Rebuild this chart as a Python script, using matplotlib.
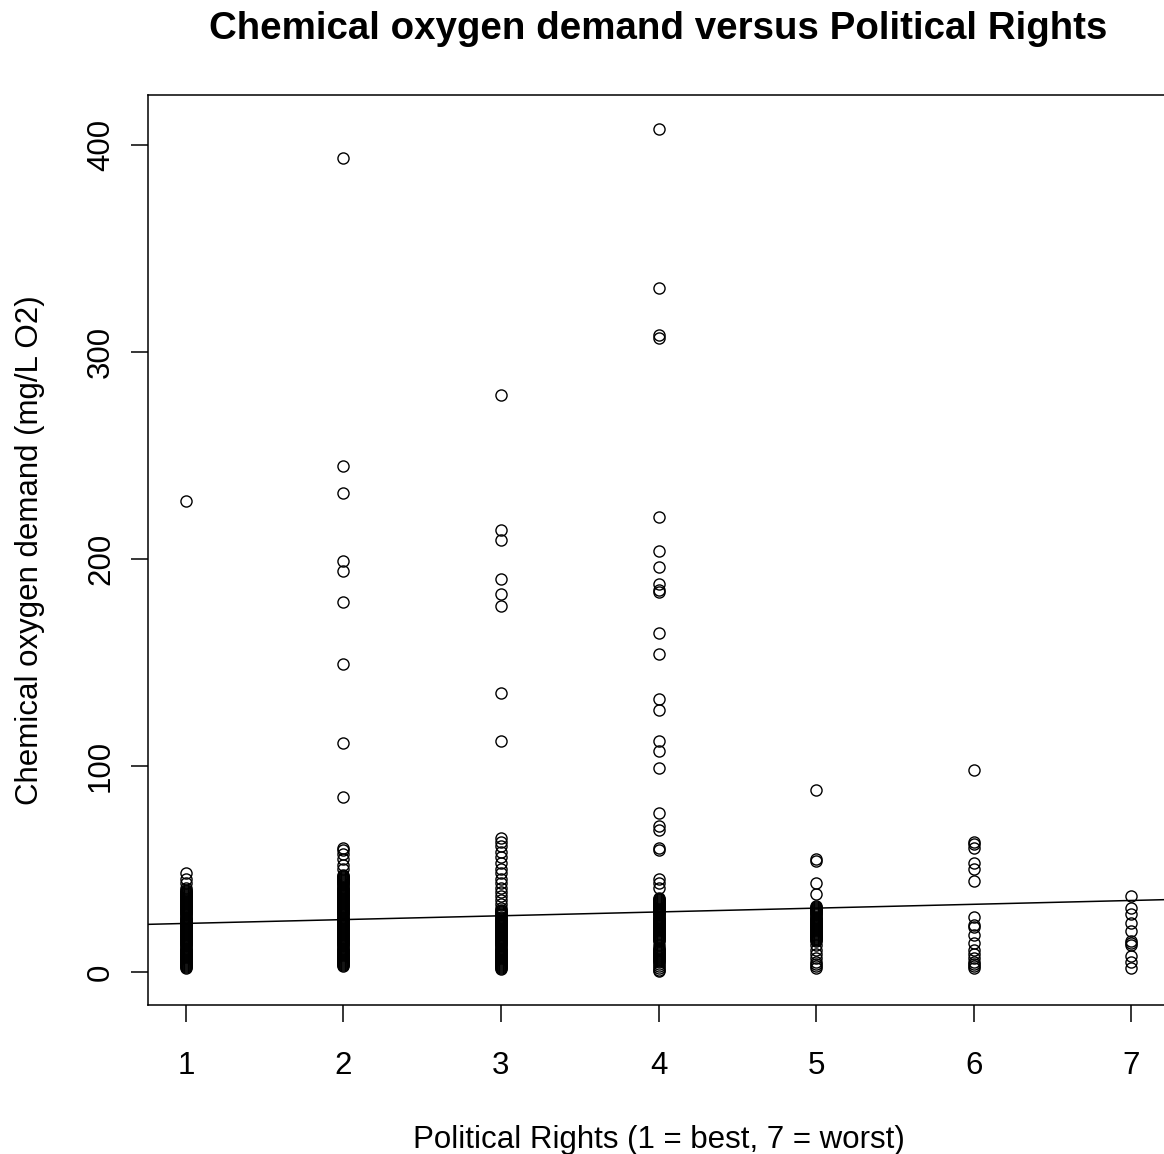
import numpy as np
import matplotlib.pyplot as plt

plt.rcParams['font.family'] = ['Liberation Sans', 'DejaVu Sans']

# Chemical oxygen demand (mg/L O2), one list per Political Rights score
# (the low, solid black part of each column is a dense run of overlapping points)
pr_scores = [1, 2, 3, 4, 5, 6, 7]

cod_pr1 = [228, 48, 45, 43, 41,
           40, 39.5, 39, 38.5, 38, 37.5, 37, 36.5, 36, 35.5, 35, 34.5, 34, 33.5,
           33, 32.5, 32, 31.5, 31, 30.5, 30, 29.5, 29, 28.5, 28, 27.5, 27, 26.5,
           26, 25.5, 25, 24.5, 24, 23.5, 23, 22.5, 22, 21.5, 21, 20.5, 20, 19.5,
           19, 18.5, 18, 17.5, 17, 16.5, 16, 15.5, 15, 14.5, 14, 13.5, 13, 12.5,
           12, 11.5, 11, 10.5, 10, 9.5, 9, 8.5, 8, 7.5, 7, 6.5, 6, 5.5, 5, 4.5,
           4, 3.5, 3, 2.5, 2]
cod_pr2 = [394, 245, 232, 199, 194, 179, 149, 111, 85, 60, 59, 57, 55, 52, 50,
           47, 46.5, 46, 45.5, 45, 44.5, 44, 43.5, 43, 42.5, 42, 41.5, 41, 40.5,
           40, 39.5, 39, 38.5, 38, 37.5, 37, 36.5, 36, 35.5, 35, 34.5, 34, 33.5,
           33, 32.5, 32, 31.5, 31, 30.5, 30, 29.5, 29, 28.5, 28, 27.5, 27, 26.5,
           26, 25.5, 25, 24.5, 24, 23.5, 23, 22.5, 22, 21.5, 21, 20.5, 20, 19.5,
           19, 18.5, 18, 17.5, 17, 16.5, 16, 15.5, 15, 14.5, 14, 13.5, 13, 12.5,
           12, 11.5, 11, 10.5, 10, 9.5, 9, 8.5, 8, 7.5, 7, 6.5, 6, 5.5, 5, 4.5,
           4, 3.5, 3]
cod_pr3 = [279, 214, 209, 190, 183, 177, 135, 112, 65, 63, 61, 58, 56, 53, 50, 48,
           45, 43, 41, 39, 37, 35, 33, 31,
           30, 29.5, 29, 28.5, 28, 27.5, 27, 26.5, 26, 25.5, 25, 24.5, 24, 23.5,
           23, 22.5, 22, 21.5, 21, 20.5, 20, 19.5, 19, 18.5, 18, 17.5, 17, 16.5,
           16, 15.5, 15, 14.5, 14, 13.5, 13, 12.5, 12, 11.5, 11, 10.5, 10, 9.5,
           9, 8.5, 8, 7.5, 7, 6.5, 6, 5.5, 5, 4.5, 4, 3.5, 3, 2.5, 2, 1.5]
cod_pr4 = [408, 331, 308, 307, 220, 204, 196, 188, 185, 184, 164, 154, 132, 127,
           112, 107, 99, 77, 71, 69, 60, 59, 45, 43, 41,
           36, 35.5, 35, 34.5, 34, 33.5, 33, 32.5, 32, 31.5, 31, 30.5, 30, 29.5,
           29, 28.5, 28, 27.5, 27, 26.5, 26, 25.5, 25, 24.5, 24, 23.5, 23, 22.5,
           22, 21.5, 21, 20.5, 20, 19.5, 19, 18.5, 18, 17.5, 17, 16.5, 16, 15.5,
           15, 13, 12, 11.5, 11, 10.5, 10, 9.5, 9, 8.5, 8, 7.5, 7, 6.5, 6, 5.5,
           5, 4, 3, 2, 1, 0.5]
cod_pr5 = [88, 55, 54, 43, 38,
           32, 31.5, 31, 30.5, 30, 29.5, 29, 28.5, 28, 27.5, 27, 26.5, 26, 25.5,
           25, 24.5, 24, 23.5, 23, 22.5, 22, 21.5, 21, 20.5, 20, 19.5, 19, 18.5,
           18, 17.5, 17, 16.5, 16, 15.5, 15, 13, 11, 9, 7, 5, 4, 3, 2]
cod_pr6 = [98, 63, 62, 60, 53, 50, 44, 27, 23, 22, 18, 14, 11, 9, 7, 5, 4, 3, 2]
cod_pr7 = [37, 31, 28, 24, 20, 15, 14, 13, 8, 5, 2]

cod_groups = [cod_pr1, cod_pr2, cod_pr3, cod_pr4, cod_pr5, cod_pr6, cod_pr7]

# least squares line as drawn on the chart
fit_intercept = 21.8
fit_slope = 1.85

xs = np.concatenate([[s] * len(g) for s, g in zip(pr_scores, cod_groups)])
ys = np.concatenate(cod_groups)

fig = plt.figure(figsize=(11.64, 11.54), dpi=100)
ax = fig.add_axes([148 / 1164, 149 / 1154, 1021 / 1164, 910 / 1154])

ax.plot(xs, ys, 'o', markersize=8, markerfacecolor='none',
        markeredgecolor='black', markeredgewidth=1.0, linestyle='none')
ax.axline((0, fit_intercept), slope=fit_slope, color='black', linewidth=1.1)

# R style 4% padding
xr = max(pr_scores) - min(pr_scores)
yr = ys.max() - ys.min()
ax.set_xlim(min(pr_scores) - 0.04 * xr, max(pr_scores) + 0.04 * xr)
ax.set_ylim(ys.min() - 0.04 * yr, ys.max() + 0.04 * yr)

ax.set_xticks(pr_scores)
ax.set_yticks([0, 100, 200, 300, 400])
ax.tick_params(axis='both', length=12, width=1.1, labelsize=22.5)
ax.tick_params(axis='x', pad=21)
ax.tick_params(axis='y', pad=11)
for lab in ax.get_yticklabels():
    lab.set_rotation(90)
    lab.set_va('center')
for sp in ax.spines.values():
    sp.set_linewidth(1.1)

ax.set_xlabel('Political Rights (1 = best, 7 = worst)', fontsize=22.5, labelpad=31.5)
ax.set_ylabel('Chemical oxygen demand (mg/L O2)', fontsize=22.5, labelpad=29.5)
ax.set_title('Chemical oxygen demand versus Political Rights', fontsize=27.7,
             fontweight='bold', pad=40)

fig.savefig('out.png', dpi=100)
